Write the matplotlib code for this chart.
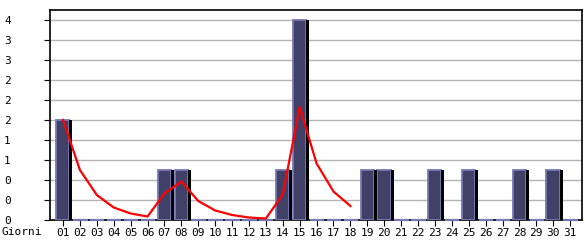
import matplotlib
matplotlib.use("Agg")
import matplotlib.pyplot as plt
import numpy as np

# daily counts
days = list(range(1, 32))
counts = [2, 0, 0, 0, 0, 0, 1, 1, 0, 0, 0, 0, 0, 1, 4, 0, 0, 0,
          1, 1, 0, 0, 1, 0, 1, 0, 0, 1, 0, 1, 0]
# red trend line (days 1..18)
trend_days = list(range(1, 19))
trend = [2.0, 1.0, 0.5, 0.25, 0.13, 0.07, 0.53, 0.77, 0.38, 0.19,
         0.1, 0.05, 0.03, 0.51, 2.26, 1.13, 0.57, 0.28]
ytick_vals = [0, 0.4, 0.8, 1.2, 1.6, 2.0, 2.4, 2.8, 3.2, 3.6, 4.0]
ytick_labels = ["0", "0", "0", "1", "1", "2", "2", "2", "3", "3", "4"]
xlabel = "Giorni"

def main():
    plt.rcParams['font.family'] = 'DejaVu Sans Mono'
    fig = plt.figure(figsize=(5.85, 2.4), dpi=100)
    ax = fig.add_axes([50/585, 20/240, 532/585, 210/240])

    x = np.array(days)
    y = np.array(counts)

    ax.set_axisbelow(True)
    ax.grid(axis='y', color='#b4b4b4', linewidth=1)

    ax.bar(x - 0.01, y, width=0.78, color='#414168', edgecolor='#7878b4',
           linewidth=1.3, zorder=3)
    # black shadow on right side
    ax.bar(x + 0.47, y, width=0.18, color='black', linewidth=0, zorder=3.5)
    # empty days: thin lavender dash on the baseline
    zero = x[y == 0]
    ax.hlines(np.zeros(len(zero)), zero - 0.4, zero + 0.45,
              color='#7878b4', linewidth=1.6, zorder=5, clip_on=False)

    ax.plot(trend_days, trend, color='#ff0000', linewidth=1.6, zorder=6)

    ax.set_xlim(0.23, 31.7)
    ax.set_ylim(0, 4.2)
    ax.set_yticks(ytick_vals)
    ax.set_yticklabels(ytick_labels)
    ax.set_xticks(days)
    ax.set_xticklabels(["%02d" % d for d in days])
    ax.tick_params(axis='y', length=4, pad=29, labelsize=8)
    ax.tick_params(axis='x', length=4, pad=2, labelsize=8)
    for lab in ax.get_yticklabels():
        lab.set_horizontalalignment('left')
    for s in ax.spines.values():
        s.set_linewidth(1.2)
    fig.text(2/585, 1 - 232/240, xlabel, fontsize=8, va='center', ha='left')

    fig.savefig("out.png", dpi=100)

if __name__ == "__main__":
    main()
